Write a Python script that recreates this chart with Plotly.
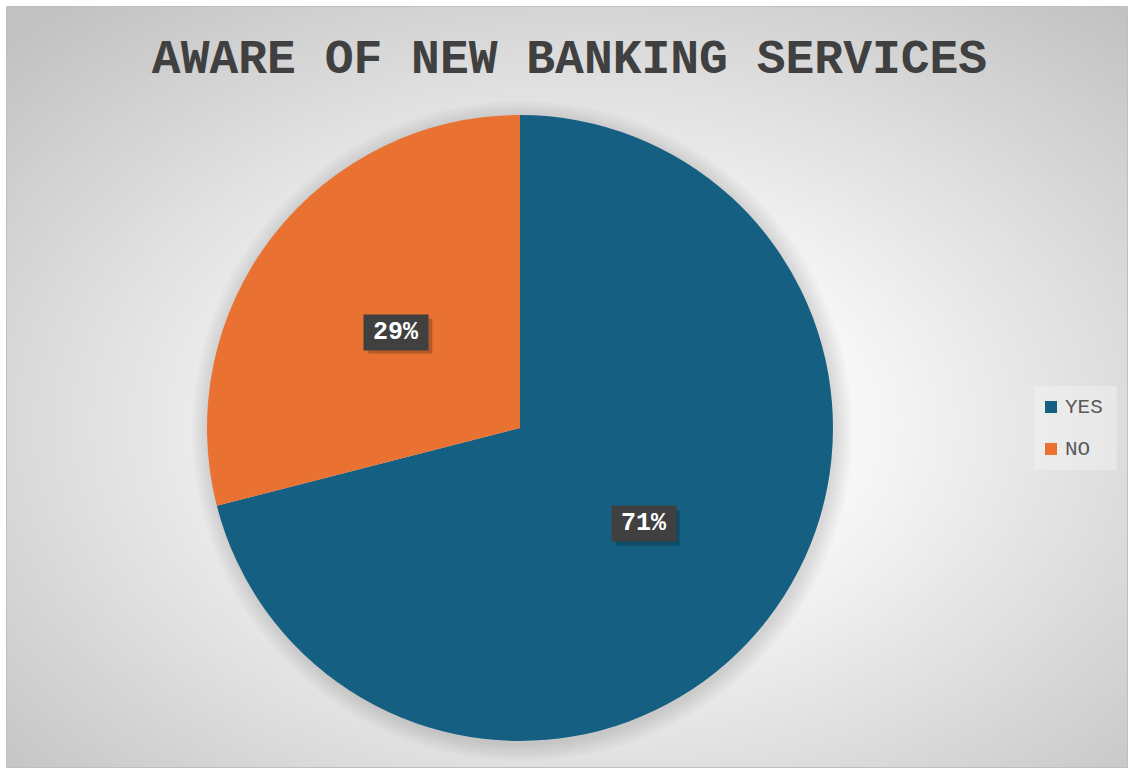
import base64
import math
import plotly.graph_objects as go

# Survey result
categories = ["YES", "NO"]
values = [71, 29]
colors = ["#156082", "#E97132"]
title_text = "AWARE OF NEW BANKING SERVICES"

W, H = 1128, 768
FONT = "Liberation Mono, Courier New, monospace"

# pie geometry in pixels
PCX, PCY, PR = 520, 428, 313
# data-label box size in pixels (text area, padding)
LBL_W, LBL_H, LBL_PAD = 54, 25, 5


def px_x(x):
    return x / W


def px_y(y):
    return 1 - y / H


# radial grey background for the chart area
svg = (
    "<svg xmlns='http://www.w3.org/2000/svg' width='1122' height='761' preserveAspectRatio='none'>"
    "<defs><radialGradient id='g' cx='52%' cy='55%' r='72%'>"
    "<stop offset='0' stop-color='#ffffff'/>"
    "<stop offset='0.35' stop-color='#f6f6f6'/>"
    "<stop offset='1' stop-color='#c2c2c2'/>"
    "</radialGradient></defs>"
    "<rect width='1122' height='761' fill='url(#g)'/></svg>"
)
bg_src = "data:image/svg+xml;base64," + base64.b64encode(svg.encode()).decode()

fig = go.Figure()
fig.add_trace(go.Pie(
    labels=categories,
    values=values,
    marker=dict(colors=colors, line=dict(width=0)),
    sort=False,
    direction="clockwise",
    rotation=0,
    textinfo="none",
    hoverinfo="label+percent",
    showlegend=False,
    domain=dict(x=[px_x(PCX - PR), px_x(PCX + PR)],
                y=[px_y(PCY + PR), px_y(PCY - PR)]),
))

shapes = []
# soft shadow around the pie
for k in range(10):
    r = PR + 1.5 + k * 1.8
    shapes.append(dict(
        type="circle", xref="paper", yref="paper", layer="below",
        x0=px_x(PCX + 2 - r), x1=px_x(PCX + 2 + r),
        y0=px_y(PCY + 3 + r), y1=px_y(PCY + 3 - r),
        fillcolor="rgba(0,0,0,0.011)", line=dict(width=0),
    ))
# chart-area frame
shapes.append(dict(
    type="rect", xref="paper", yref="paper", layer="above",
    x0=px_x(6.5), x1=px_x(1127.5), y0=px_y(767.5), y1=px_y(6.5),
    line=dict(color="#bfbfbf", width=1), fillcolor="rgba(0,0,0,0)",
))

annotations = []
# percentage labels at half radius of each slice
total = sum(values)
cum = 0
bw, bh = LBL_W + 2 * LBL_PAD, LBL_H + 2 * LBL_PAD
for cat, v in zip(categories, values):
    mid = (cum + v / 2) / total
    cum += v
    theta = 2 * math.pi * mid
    lx = PCX + 0.5 * PR * math.sin(theta)
    ly = PCY - 0.5 * PR * math.cos(theta)
    pct = f"{round(100 * v / total)}%"
    # drop shadow under the label box
    shapes.append(dict(
        type="rect", xref="paper", yref="paper", layer="above",
        x0=px_x(lx - bw / 2 + 4), x1=px_x(lx + bw / 2 + 4),
        y0=px_y(ly + bh / 2 + 4), y1=px_y(ly - bh / 2 + 4),
        fillcolor="rgba(0,0,0,0.22)", line=dict(width=0),
    ))
    annotations.append(dict(
        x=px_x(lx), y=px_y(ly), xref="paper", yref="paper",
        showarrow=False, xanchor="center", yanchor="middle",
        width=LBL_W, height=LBL_H, borderpad=LBL_PAD,
        text=f"<b>{pct}</b>",
        font=dict(family=FONT, size=25, color="#ffffff"),
        bgcolor="#404040",
    ))

# legend box and entries
shapes.append(dict(
    type="rect", xref="paper", yref="paper", layer="below",
    x0=px_x(1034), x1=px_x(1117), y0=px_y(470), y1=px_y(386),
    fillcolor="rgba(245,245,245,0.45)", line=dict(width=0),
))
for i, (cat, col) in enumerate(zip(categories, colors)):
    yc = 407 + i * 42
    shapes.append(dict(
        type="rect", xref="paper", yref="paper", layer="above",
        x0=px_x(1045), x1=px_x(1057), y0=px_y(yc + 6), y1=px_y(yc - 6),
        fillcolor=col, line=dict(width=0),
    ))
    annotations.append(dict(
        x=px_x(1063), y=px_y(yc), xref="paper", yref="paper", showarrow=False,
        xanchor="left", yanchor="middle", text=cat,
        font=dict(family=FONT, size=21, color="#595959"),
    ))

fig.update_layout(
    width=W, height=H,
    margin=dict(l=0, r=0, t=0, b=0),
    paper_bgcolor="#ffffff",
    plot_bgcolor="rgba(0,0,0,0)",
    title=dict(
        text=f"<b>{title_text}</b>",
        font=dict(family=FONT, size=48, color="#404040"),
        x=569.5 / W, xanchor="center", y=1 - 56 / H, yanchor="middle",
    ),
    images=[dict(
        source=bg_src, xref="paper", yref="paper",
        x=px_x(7), y=px_y(7), sizex=(1122) / W, sizey=(761) / H,
        xanchor="left", yanchor="top", sizing="stretch", layer="below",
    )],
    shapes=shapes,
    annotations=annotations,
    showlegend=False,
)

fig.write_html("out.html")
